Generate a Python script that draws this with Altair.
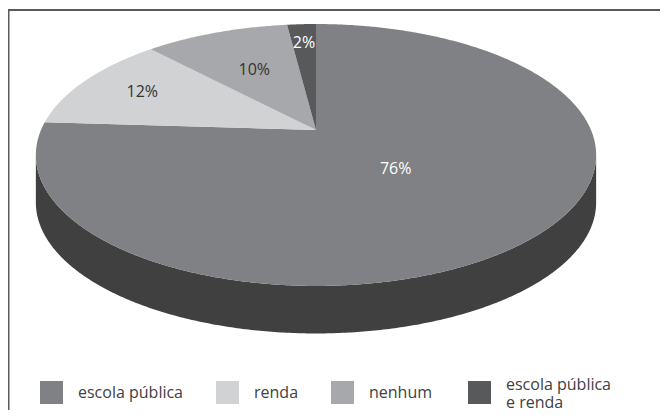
import math
import altair as alt

# ---- data ----
categories = ["escola pública", "renda", "nenhum", "escola pública e renda"]
values = [76, 12, 10, 2]

# ---- styles ----
colors = ["#808184", "#d1d2d4", "#a7a8ab", "#58595b"]
side_color = "#404041"
label_fill = ["#ffffff", "#333333", "#333333", "#ffffff"]
label_radius = [0.4, 0.74, 0.58, 0.8]

W, H = 652, 402
APEX = [308, 122]      # projected pie centre (pixels in plot area)
A = 275.0              # horizontal radius factor
B = 126.2              # vertical radius factor
K = 0.1908             # perspective factor
DEPTH = 47.5           # thickness in pixels
FONT = "Open Sans"
TEXT_COLOR = "#414042"


def proj(theta_deg, r=1.0):
    t = math.radians(theta_deg)
    u = r * math.sin(t)
    v = r * math.cos(t)
    d = 1 + K * v
    return [u / d, (B / A) * v / d]


def arc_pts(a0, a1, step=0.5):
    pts = []
    t = a0
    while t < a1:
        pts.append(proj(t))
        t += step
    pts.append(proj(a1))
    return pts


total = float(sum(values))
features = []
texts = []
start = 0.0
for i, (c, v) in enumerate(zip(categories, values)):
    end = start + 360.0 * v / total
    ring = [[0.0, 0.0]] + arc_pts(start, end) + [[0.0, 0.0]]
    features.append({
        "type": "Feature",
        "geometry": {"type": "Polygon", "coordinates": [ring]},
        "properties": {"cat": c, "pct": v},
    })
    lon, lat = proj((start + end) / 2.0, label_radius[i])
    texts.append({"cat": c, "txt": f"{v}%", "lon": lon, "lat": lat,
                  "tc": label_fill[i]})
    start = end

# front side wall (visible between the silhouette extremes)
t_r = math.degrees(math.acos(-K))
t_l = 360.0 - t_r
top_edge = arc_pts(t_r, t_l)
dz = DEPTH / A
bottom_edge = [[x, y - dz] for x, y in reversed(top_edge)]
side_ring = top_edge + bottom_edge + [top_edge[0]]
side_feature = [{
    "type": "Feature",
    "geometry": {"type": "Polygon", "coordinates": [side_ring]},
    "properties": {"cat": "side"},
}]

projection = dict(type="identity", scale=A, translate=APEX, reflectY=True)

legend_common = dict(
    title=None,
    orient="none",
    direction="horizontal",
    symbolType="square",
    symbolSize=529,
    symbolStrokeWidth=0,
    symbolOpacity=1,
    labelFont=FONT,
    labelFontSize=16,
    labelColor=TEXT_COLOR,
    labelOffset=15,
    columnPadding=32,
    labelLimit=400,
    padding=0,
)

side = alt.Chart(alt.Data(values=side_feature)).mark_geoshape(
    fill=side_color, stroke=None, strokeWidth=0
).project(**projection)

top_main = alt.Chart(alt.Data(values=features[:3])).mark_geoshape(
    strokeWidth=0
).encode(
    color=alt.Color(
        "properties.cat:N",
        scale=alt.Scale(domain=categories[:3], range=colors[:3]),
        legend=alt.Legend(legendX=32, legendY=373, **legend_common),
    )
).project(**projection)

top_last = alt.Chart(alt.Data(values=features[3:])).mark_geoshape(
    strokeWidth=0
).encode(
    fill=alt.Fill(
        "properties.cat:N",
        scale=alt.Scale(domain=categories[3:], range=colors[3:]),
        legend=alt.Legend(
            legendX=460, legendY=373, labelBaseline="bottom",
            labelExpr="[split(datum.label, ' e ')[0], 'e ' + split(datum.label, ' e ')[1]]",
            **legend_common,
        ),
    )
).project(**projection)


def text_layer(color):
    rows = [t for t in texts if t["tc"] == color]
    return alt.Chart(alt.Data(values=rows)).mark_text(
        font=FONT, fontSize=16, align="center", baseline="middle", color=color
    ).encode(
        longitude="lon:Q",
        latitude="lat:Q",
        text="txt:N",
    ).project(**projection)


text_layers = [text_layer(c) for c in dict.fromkeys(label_fill)]

frame_data = alt.Data(values=[{}])
frame_left = alt.Chart(frame_data).mark_rule(color="#5a5a5a", strokeWidth=2).encode(
    x=alt.value(0.5), y=alt.value(1), y2=alt.value(H)
)
frame_top = alt.Chart(frame_data).mark_rule(color="#5a5a5a", strokeWidth=2).encode(
    x=alt.value(0), x2=alt.value(W), y=alt.value(2)
)

chart = alt.layer(side, top_main, top_last, *text_layers, frame_left, frame_top).properties(
    width=W, height=H, padding=0, autosize=alt.AutoSizeParams(type="none"),
    background="white",
).configure_view(stroke=None)

chart.save("out.html", embed_options={"renderer": "svg", "actions": False})
